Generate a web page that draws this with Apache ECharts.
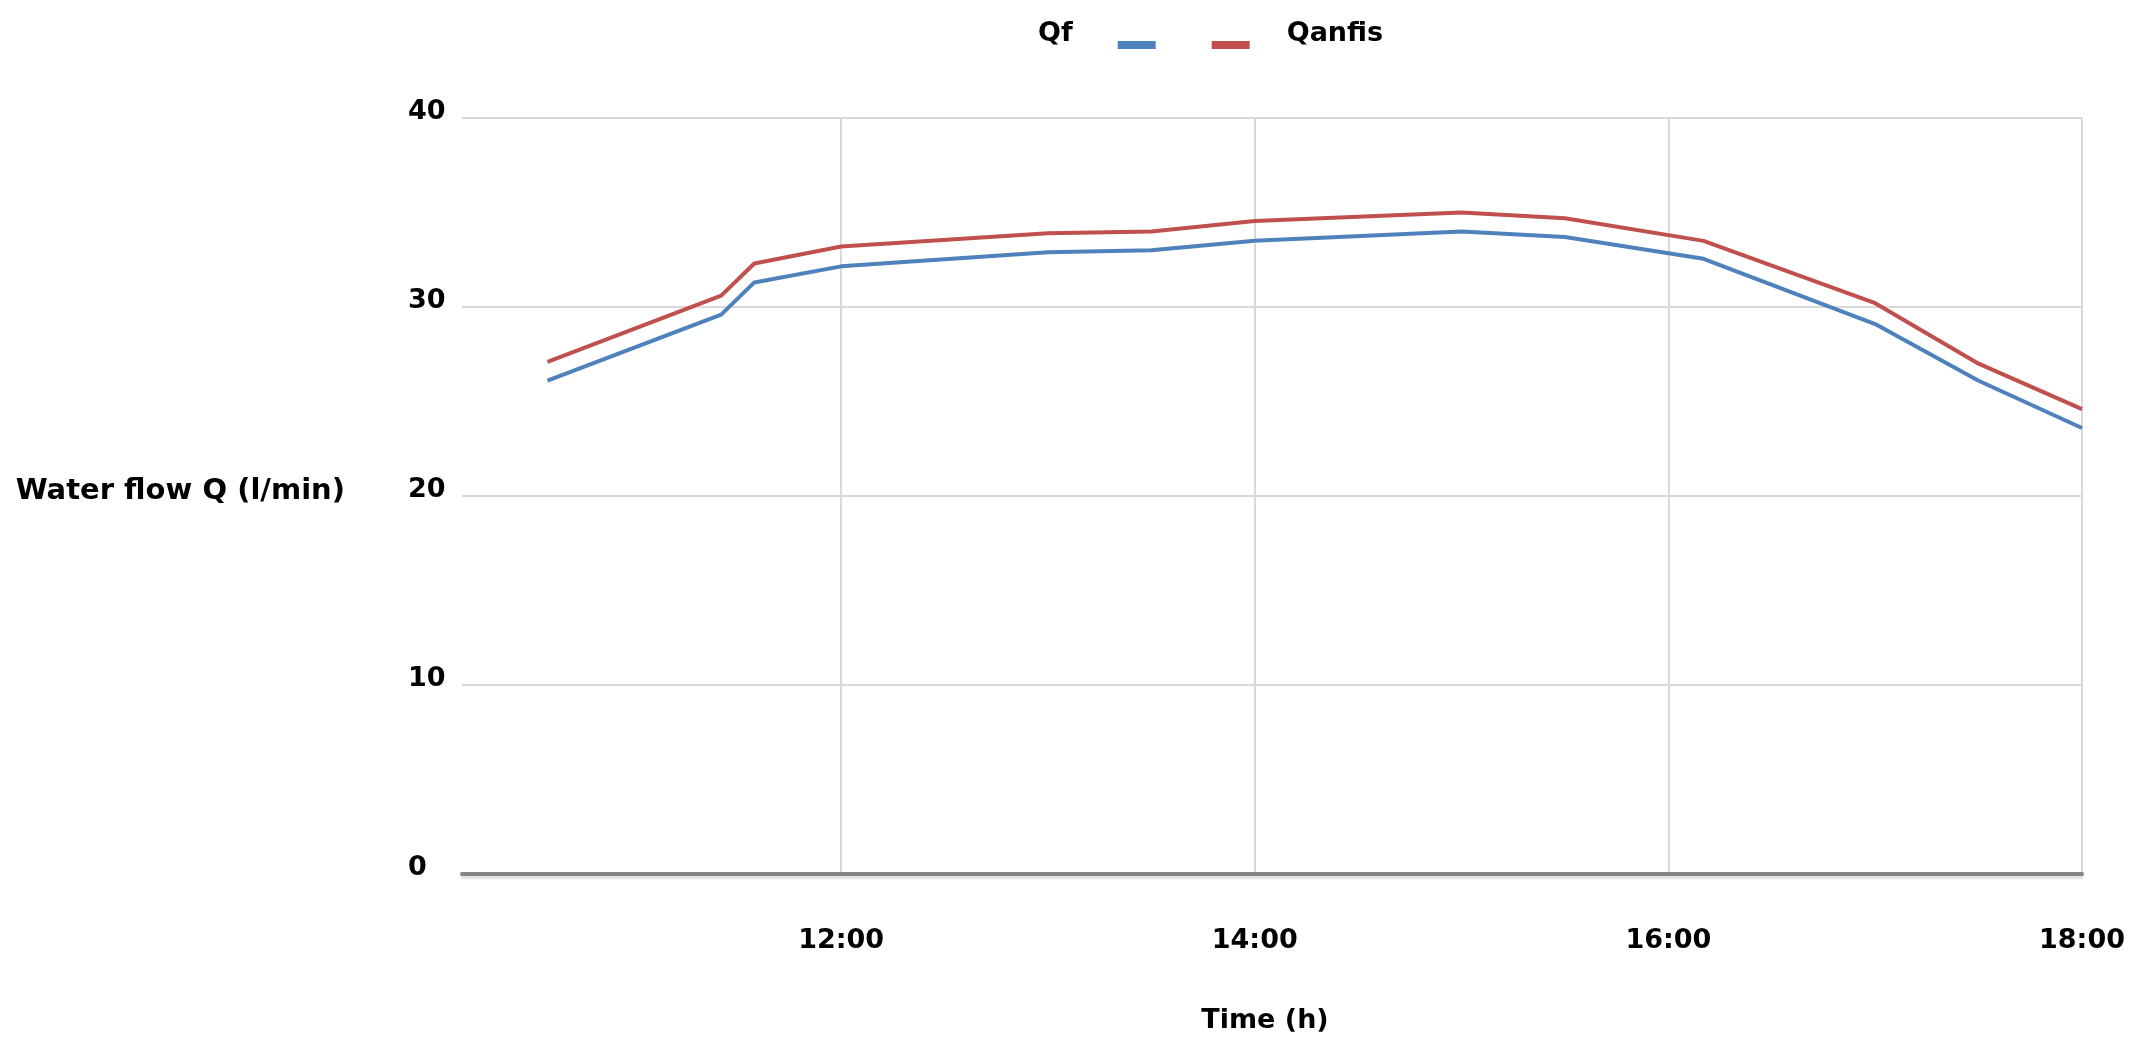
<!DOCTYPE html>
<html>
<head>
<meta charset="utf-8">
<script src="https://cdn.jsdelivr.net/npm/echarts@6/dist/echarts.min.js"></script>
<style>html,body{margin:0;padding:0;background:#fff;}#chart{width:2142px;height:1054px;}</style>
</head>
<body>
<div id="chart"></div>
<script>
// Time in decimal hours
const times = [10.58, 11.42, 11.58, 12.0, 13.0, 13.5, 14.0, 15.0, 15.5, 16.17, 17.0, 17.5, 18.0];
const qf = [26.1, 29.6, 31.3, 32.15, 32.9, 33.0, 33.5, 34.0, 33.7, 32.55, 29.1, 26.1, 23.6];
const qanfis = [27.1, 30.6, 32.3, 33.2, 33.9, 34.0, 34.55, 35.0, 34.7, 33.5, 30.2, 27.0, 24.6];
const xTickValues = [12, 14, 16, 18];
const xMin = 10 + 10 / 60;
const xMax = 18;
const yMin = 0, yMax = 40, yStep = 10;

const FONT = 'DejaVu Sans';
// legend swatch drawn in the lower part of a taller box (text sits higher than the swatch)
const SWATCH = 'path://M0,0L38,0L38,0.01L0,0.01Z M0,23L38,23L38,31L0,31Z';
const chart = echarts.init(document.getElementById('chart'));
const fmtTime = v => {
  const h = Math.floor(v + 1e-9);
  const m = Math.round((v - h) * 60);
  return h + ':' + String(m).padStart(2, '0');
};
chart.setOption({
  animation: false,
  backgroundColor: '#ffffff',
  legend: [
    {
      data: ['Qf'], left: 1038, top: 18, padding: 0, align: 'right',
      itemWidth: 38, itemHeight: 31, icon: SWATCH,
      textStyle: { fontFamily: FONT, fontWeight: 'bold', fontSize: 27, color: '#000', padding: [0, 40, 0, 0] }
    },
    {
      data: ['Qanfis'], left: 1211.7, top: 18, padding: 0, align: 'left',
      itemWidth: 38, itemHeight: 31, icon: SWATCH,
      textStyle: { fontFamily: FONT, fontWeight: 'bold', fontSize: 27, color: '#000', padding: [0, 0, 0, 32] }
    }
  ],
  grid: { left: 462, right: 60, top: 118, bottom: 180, containLabel: false },
  xAxis: {
    type: 'value', min: xMin, max: xMax,
    name: 'Time (h)', nameLocation: 'middle', nameGap: 133,
    nameTextStyle: { fontFamily: FONT, fontWeight: 'bold', fontSize: 27, color: '#000', padding: [0, 14, 0, 0] },
    axisLine: { show: true, lineStyle: { color: '#858585', width: 4, shadowColor: 'rgba(0,0,0,0.12)', shadowOffsetY: 3, shadowBlur: 2 } },
    axisTick: { show: false, customValues: xTickValues },
    axisLabel: {
      customValues: xTickValues, formatter: fmtTime, margin: 53,
      fontFamily: FONT, fontWeight: 'bold', fontSize: 27, color: '#000'
    },
    splitLine: { show: true, lineStyle: { color: '#d9d9d9', width: 2 } }
  },
  yAxis: {
    type: 'value', min: yMin, max: yMax, interval: yStep,
    name: 'Water flow Q (l/min)', nameLocation: 'middle', nameRotate: 0, nameGap: 117,
    nameTextStyle: { fontFamily: FONT, fontWeight: 'bold', fontSize: 29, color: '#000', align: 'right', verticalAlign: 'bottom', lineHeight: 10 },
    axisLine: { show: false },
    axisTick: { show: false },
    axisLabel: {
      margin: 54, align: 'left', verticalAlign: 'bottom', lineHeight: 13,
      fontFamily: FONT, fontWeight: 'bold', fontSize: 27, color: '#000'
    },
    splitLine: { show: true, lineStyle: { color: '#d9d9d9', width: 2 } }
  },
  series: [
    {
      name: 'Qf', type: 'line', symbol: 'none', smooth: false,
      data: times.map((t, i) => [t, qf[i]]),
      itemStyle: { color: '#4F81BD' },
      lineStyle: { color: '#4F81BD', width: 4 }
    },
    {
      name: 'Qanfis', type: 'line', symbol: 'none', smooth: false,
      data: times.map((t, i) => [t, qanfis[i]]),
      itemStyle: { color: '#C0504D' },
      lineStyle: { color: '#C0504D', width: 4 }
    }
  ]
});
</script>
</body>
</html>
